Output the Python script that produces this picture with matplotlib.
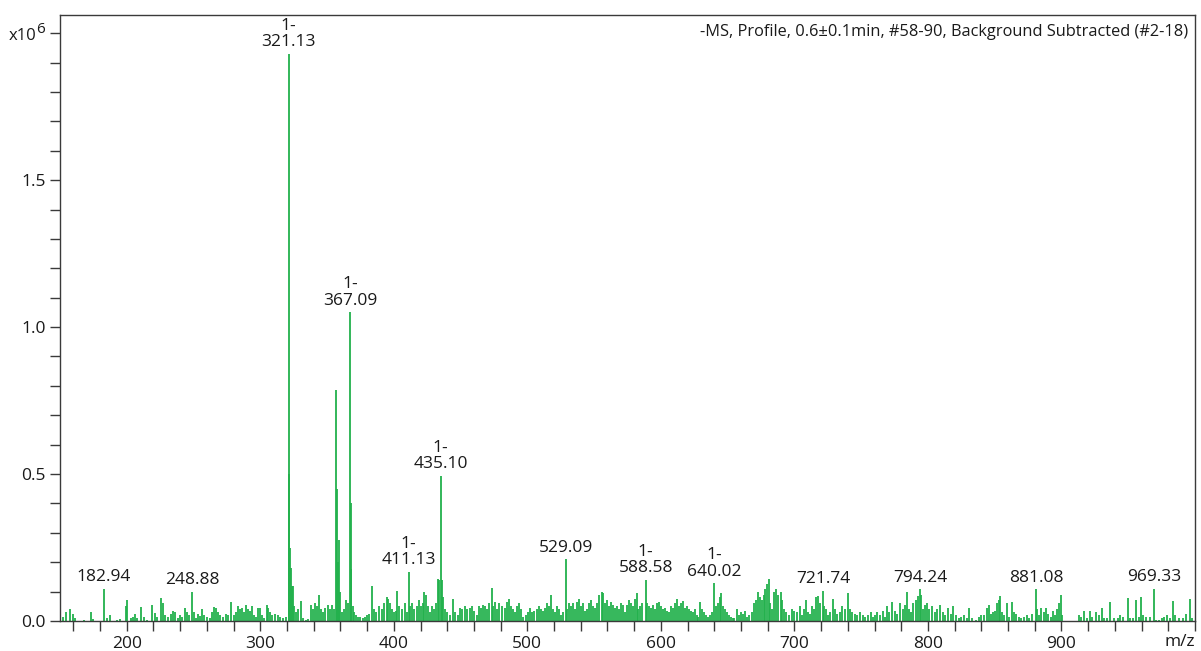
import matplotlib
matplotlib.use("Agg")
import matplotlib.pyplot as plt
from matplotlib.ticker import MultipleLocator, FixedLocator

plt.rcParams['font.family'] = ['Open Sans', 'DejaVu Sans']

# ---- data: stick spectrum, intensity in units of 1e6 counts ----
mz = [
    152, 154.8, 157.3, 159.8, 161, 168, 173.5, 175, 182.94, 185, 187.5, 193, 195,
    199.2, 200.5, 203, 204.5, 206, 208, 211, 213, 215, 219, 221, 223, 226, 227,
    229, 231, 233, 234.5, 236, 238, 240, 241.5, 243.4, 245, 246.5, 248.88, 250,
    252, 253.5, 255, 256, 258, 260, 262, 263.5, 265.4, 266.5, 268, 270, 272, 274,
    276, 278.4, 280, 282, 283.5, 285, 286, 287.5, 289, 290.5, 292, 293.5, 295,
    297, 298.5, 300, 301.5, 303, 305, 306, 307.5, 309, 311, 313, 315, 317, 318.9,
    321.13, 321.6, 322.1, 323.0, 323.8, 324.6, 325.5, 327, 328.5, 330.8, 332, 334,
    336, 338.3, 339.5, 341, 342.5, 344, 345.5, 347, 348.5, 350.8, 352, 353.5, 355,
    356.6, 357.3, 358.0, 359.0, 360.0, 361.5, 363, 364.5, 365.8, 367.09, 367.6,
    368.2, 369.2, 370.5, 372, 373.5, 375, 377, 378.5, 380, 381.5, 383.3, 385, 387,
    389, 391, 393, 395, 396, 397, 398.5, 400, 401.5, 402.5, 404, 406, 408, 409.5,
    411.13, 412, 413.5, 415, 417, 418.5, 420, 421.5, 422.7, 424, 425.5, 427,
    428.5, 430, 431.5, 433.2, 434.2, 435.10, 436.2, 437, 438.5, 440, 442, 444.5,
    446, 448, 449.5, 451, 453, 455, 457, 458.5, 460, 462, 463.5, 465, 466.5, 468,
    470, 471.5, 473.2, 474.5, 476, 477.5, 479, 481, 483, 484.5, 486.1, 487.5, 489,
    490.5, 492, 493.5, 495, 497, 499, 500.5, 502, 503.5, 505, 507, 509, 510.5,
    512, 513.5, 515, 516.5, 518, 519.5, 521, 522.5, 524, 525.5, 527, 529.09, 530,
    531.5, 533, 534.5, 536, 537.5, 539, 540.5, 542, 543.5, 545, 546.5, 548, 549.5,
    551, 552.5, 554, 555.6, 556.5, 558, 559.5, 561, 562.5, 564, 565.5, 567, 568.5,
    570, 571.5, 573, 574.5, 576, 577.5, 579, 580.5, 581.8, 583, 584.5, 586, 588.58,
    589.5, 591, 592.5, 594, 595.5, 597, 598.5, 600, 601.5, 603, 604.5, 606, 607.5,
    609, 610.5, 612.2, 613.5, 615, 616.5, 618, 619.5, 621, 622.5, 624, 625.5, 627,
    628, 629.2, 630.5, 632, 633.5, 635, 637, 638.5, 640.02, 641, 642.5, 644, 645,
    646.5, 648, 649.5, 651, 652.5, 654, 655, 657, 658.5, 660, 661.5, 663, 664.5,
    666, 668, 669.5, 671, 672.9, 674, 675.5, 677, 678, 679.2, 680.9, 682, 683.5,
    685, 686.5, 688, 689.6, 691, 692.5, 694, 696, 698, 700, 702, 704, 705.5, 707,
    708.5, 710, 712, 713.5, 715, 716.5, 718, 719.5, 721.74, 722.5, 724, 725.5,
    727, 729, 730.5, 732, 734, 736, 738, 740.3, 741.5, 743, 745, 747, 749, 751,
    753, 755, 757, 758.5, 760, 762, 764, 766, 767.5, 769, 771, 773, 775, 777, 779,
    781, 783, 784, 785.5, 787, 789, 791, 792.5, 794.24, 795, 796.5, 798, 799.5,
    801, 803, 805, 807, 809, 811, 813, 815, 817, 819, 821, 823, 825, 827, 829, 831,
    833, 836, 838.5, 840, 842, 844, 845.7, 847, 849, 850.5, 852, 853, 854, 855.5,
    857, 859, 861, 863, 864.5, 866, 868, 870, 872, 874, 876, 878, 881.08, 882,
    883.5, 885, 887, 888.5, 890, 892, 894, 895.5, 897, 898, 899.4, 900.5, 913,
    914.5, 917, 919, 921, 923, 926, 928, 930, 931.5, 934, 936.5, 939, 942, 944,
    946, 949.6, 951, 953.5, 956, 958, 959.3, 961, 963, 966, 969.33, 971, 973, 975,
    977, 979, 981, 983.3, 985, 988, 991, 993, 996.3, 998,
]
intensity = [
    0.012, 0.032, 0.040, 0.025, 0.010, 0.005, 0.032, 0.008, 0.109, 0.010, 0.022, 0.005, 0.008,
    0.052, 0.071, 0.010, 0.015, 0.025, 0.010, 0.048, 0.012, 0.005, 0.055, 0.028, 0.015, 0.077, 0.060,
    0.020, 0.015, 0.025, 0.035, 0.030, 0.010, 0.020, 0.015, 0.044, 0.030, 0.020, 0.100, 0.030,
    0.010, 0.025, 0.018, 0.040, 0.020, 0.015, 0.010, 0.030, 0.047, 0.045, 0.030, 0.020, 0.015, 0.025,
    0.020, 0.065, 0.020, 0.030, 0.050, 0.040, 0.045, 0.030, 0.055, 0.040, 0.035, 0.050, 0.020,
    0.015, 0.045, 0.045, 0.020, 0.010, 0.053, 0.045, 0.030, 0.020, 0.025, 0.020, 0.015, 0.010, 0.012,
    1.930, 0.500, 0.250, 0.180, 0.120, 0.120, 0.050, 0.030, 0.040, 0.067, 0.010, 0.005,
    0.008, 0.055, 0.040, 0.060, 0.050, 0.090, 0.040, 0.030, 0.045, 0.055, 0.040, 0.055, 0.040,
    0.786, 0.450, 0.200, 0.275, 0.100, 0.030, 0.040, 0.070, 0.060, 1.050, 0.400,
    0.176, 0.050, 0.030, 0.020, 0.015, 0.015, 0.010, 0.012, 0.020, 0.025, 0.119, 0.040, 0.030,
    0.050, 0.040, 0.060, 0.080, 0.075, 0.060, 0.040, 0.030, 0.035, 0.102, 0.050, 0.040, 0.060, 0.030,
    0.168, 0.050, 0.060, 0.040, 0.050, 0.070, 0.050, 0.060, 0.098, 0.090, 0.050, 0.030,
    0.050, 0.040, 0.060, 0.142, 0.138, 0.494, 0.140, 0.080, 0.040, 0.030, 0.020, 0.074,
    0.030, 0.020, 0.045, 0.040, 0.050, 0.040, 0.045, 0.050, 0.035, 0.020, 0.050, 0.045, 0.055, 0.050,
    0.040, 0.060, 0.111, 0.050, 0.065, 0.040, 0.060, 0.050, 0.045, 0.065, 0.074, 0.050, 0.040,
    0.030, 0.050, 0.060, 0.040, 0.015, 0.020, 0.030, 0.045, 0.030, 0.035, 0.040, 0.050, 0.040,
    0.035, 0.045, 0.060, 0.050, 0.088, 0.040, 0.030, 0.050, 0.040, 0.020, 0.030, 0.210, 0.040,
    0.060, 0.050, 0.060, 0.040, 0.065, 0.075, 0.050, 0.060, 0.035, 0.040, 0.060, 0.070, 0.050,
    0.045, 0.060, 0.090, 0.100, 0.095, 0.060, 0.070, 0.050, 0.065, 0.055, 0.045, 0.050, 0.040,
    0.060, 0.055, 0.030, 0.055, 0.070, 0.060, 0.050, 0.075, 0.095, 0.040, 0.050, 0.060, 0.140,
    0.060, 0.050, 0.045, 0.055, 0.040, 0.060, 0.065, 0.050, 0.040, 0.045, 0.035, 0.030, 0.050,
    0.045, 0.060, 0.074, 0.050, 0.060, 0.068, 0.045, 0.050, 0.040, 0.035, 0.030, 0.040, 0.020,
    0.015, 0.066, 0.040, 0.030, 0.020, 0.015, 0.020, 0.030, 0.128, 0.050, 0.060, 0.080, 0.096,
    0.050, 0.040, 0.030, 0.020, 0.015, 0.010, 0.010, 0.040, 0.020, 0.030, 0.025, 0.035, 0.015,
    0.020, 0.030, 0.060, 0.070, 0.100, 0.080, 0.070, 0.090, 0.110, 0.126, 0.142, 0.060, 0.040,
    0.100, 0.110, 0.090, 0.100, 0.070, 0.040, 0.030, 0.020, 0.040, 0.035, 0.030, 0.050, 0.020, 0.040,
    0.073, 0.030, 0.025, 0.050, 0.040, 0.080, 0.085, 0.060, 0.103, 0.050, 0.040, 0.020,
    0.030, 0.075, 0.040, 0.025, 0.030, 0.050, 0.040, 0.096, 0.040, 0.030, 0.025, 0.020, 0.030, 0.020,
    0.015, 0.020, 0.030, 0.015, 0.020, 0.030, 0.020, 0.035, 0.015, 0.050, 0.030, 0.065, 0.035, 0.025, 0.060,
    0.040, 0.055, 0.100, 0.040, 0.030, 0.060, 0.070, 0.085, 0.108, 0.090, 0.040, 0.055, 0.060,
    0.040, 0.050, 0.030, 0.040, 0.055, 0.030, 0.020, 0.045, 0.025, 0.050, 0.020, 0.010, 0.015, 0.020, 0.010, 0.045,
    0.010, 0.005, 0.015, 0.020, 0.020, 0.045, 0.054, 0.025, 0.030, 0.035, 0.060, 0.070, 0.085, 0.030,
    0.020, 0.060, 0.015, 0.065, 0.030, 0.025, 0.015, 0.010, 0.015, 0.020, 0.010, 0.025, 0.108, 0.040,
    0.020, 0.045, 0.030, 0.045, 0.025, 0.015, 0.035, 0.020, 0.040, 0.060, 0.088, 0.020, 0.020,
    0.015, 0.035, 0.010, 0.035, 0.015, 0.030, 0.020, 0.045, 0.010, 0.010, 0.063, 0.010, 0.010, 0.020,
    0.015, 0.077, 0.010, 0.010, 0.070, 0.015, 0.082, 0.020, 0.015, 0.015, 0.110, 0.005, 0.005, 0.010,
    0.015, 0.020, 0.010, 0.068, 0.020, 0.010, 0.010, 0.025, 0.074, 0.010,
]

# labelled peaks: (m/z, label text)
label_mz = [182.94, 248.88, 321.13, 367.09, 411.13, 435.10, 529.09, 588.58,
            640.02, 721.74, 794.24, 881.08, 969.33]
label_text = ["182.94", "248.88", "1-\n321.13", "1-\n367.09", "1-\n411.13",
              "1-\n435.10", "529.09", "1-\n588.58", "1-\n640.02", "721.74",
              "794.24", "881.08", "969.33"]

title_text = "-MS, Profile, 0.6\u00b10.1min, #58-90, Background Subtracted (#2-18)"
ytick_vals = [0.0, 0.5, 1.0, 1.5, 2.0]
ytick_labels = ["0.0", "0.5", "1.0", "1.5", ""]
xtick_vals = [200, 300, 400, 500, 600, 700, 800, 900]

green = "#22b14c"
axis_col = "#3a3a3a"
text_col = "#1a1a1a"

fig = plt.figure(figsize=(12.01, 6.51), dpi=100)
ax = fig.add_axes([60 / 1201, 30 / 651, 1135 / 1201, 606 / 651])

ax.vlines(mz, 0, intensity, color=green, linewidth=1.3)

ax.set_xlim(150, 1000)
ax.set_ylim(0, 2.062)

for m, t in zip(label_mz, label_text):
    h = max(v for x, v in zip(mz, intensity) if abs(x - m) < 1.0)
    ax.annotate(t, xy=(m, h), xytext=(0, 2.5), textcoords="offset points",
                ha="center", va="bottom", fontsize=12.5, color=text_col,
                linespacing=1.05)

ax.text(0.994, 0.985, title_text, transform=ax.transAxes, ha="right", va="top",
        fontsize=11.8, color=text_col)
ax.text(0.987, -0.022, "m/z", transform=ax.transAxes, ha="center", va="top",
        fontsize=12.5, color=text_col)

# exponent label at top y tick
ax.annotate("x10", xy=(0, 2.0), xycoords=("axes fraction", "data"),
            xytext=(-17, -5), textcoords="offset points", ha="right",
            va="baseline", fontsize=12, color=text_col)
ax.annotate("6", xy=(0, 2.0), xycoords=("axes fraction", "data"),
            xytext=(-17, 0), textcoords="offset points", ha="left",
            va="baseline", fontsize=11, color=text_col)

ax.xaxis.set_major_locator(FixedLocator(xtick_vals))
ax.xaxis.set_minor_locator(MultipleLocator(20))
ax.yaxis.set_major_locator(FixedLocator(ytick_vals))
ax.set_yticklabels(ytick_labels)
ax.yaxis.set_minor_locator(MultipleLocator(0.1))

ax.tick_params(axis="both", which="major", length=7, width=1, color=axis_col,
               labelsize=12.5, labelcolor=text_col, direction="out")
ax.tick_params(axis="both", which="minor", length=7, width=1, color=axis_col,
               direction="out")
ax.tick_params(axis="x", pad=4)
ax.tick_params(axis="y", pad=3)

for s in ax.spines.values():
    s.set_color(axis_col)
    s.set_linewidth(1)

fig.savefig("out.png", dpi=100)
